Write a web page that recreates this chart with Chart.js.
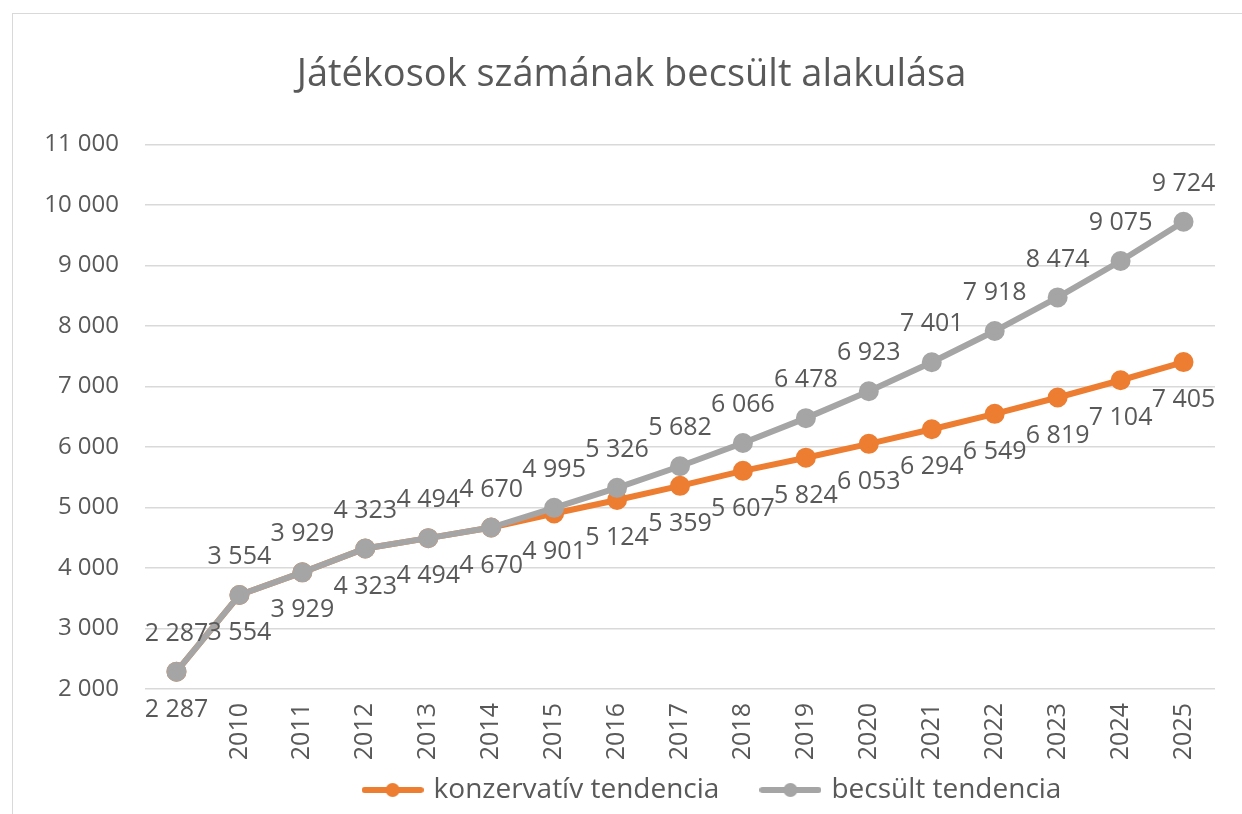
<!DOCTYPE html>
<html>
<head>
<meta charset="utf-8">
<script src="https://cdn.jsdelivr.net/npm/chart.js@4/dist/chart.umd.min.js"></script>
<style>
  html, body { margin: 0; padding: 0; background: #fff; }
  #wrap { position: relative; width: 1242px; height: 814px; }
  #frame { position: absolute; left: 12px; top: 13px; width: 1240px; height: 820px; border: 1px solid #d9d9d9; box-sizing: border-box; }
  canvas { position: absolute; left: 0; top: 0; }
</style>
</head>
<body>
<div id="wrap">
  <div id="frame"></div>
  <canvas id="chart" width="1242" height="814"></canvas>
</div>
<script>
// Kategóriák (az első pont évszám nélkül)
const evek = ['', '2010', '2011', '2012', '2013', '2014', '2015', '2016', '2017',
  '2018', '2019', '2020', '2021', '2022', '2023', '2024', '2025'];
const konzervativ = [2287, 3554, 3929, 4323, 4494, 4670, 4901, 5124, 5359,
  5607, 5824, 6053, 6294, 6549, 6819, 7104, 7405];
const becsult = [2287, 3554, 3929, 4323, 4494, 4670, 4995, 5326, 5682,
  6066, 6478, 6923, 7401, 7918, 8474, 9075, 9724];
const yTicks = [2000, 3000, 4000, 5000, 6000, 7000, 8000, 9000, 10000, 11000];

const NARANCS = '#ED7D31';
const SZURKE = '#A5A5A5';
const SZOVEG = '#595959';
const BETU = "'Open Sans', 'Noto Sans', sans-serif";

// ezres elválasztó szóközzel (2 287)
function fmt(v) {
  return String(v).replace(/\B(?=(\d{3})+(?!\d))/g, ' ');
}

// jelmagyarázat ikon: vonal + pötty
function legendIcon(color) {
  const c = document.createElement('canvas');
  c.width = 62; c.height = 16;
  const g = c.getContext('2d');
  g.strokeStyle = color; g.lineWidth = 6; g.lineCap = 'round';
  g.beginPath(); g.moveTo(3, 8); g.lineTo(59, 8); g.stroke();
  g.fillStyle = color;
  g.beginPath(); g.arc(31, 8, 7, 0, Math.PI * 2); g.fill();
  return c;
}

// adatcímkék: szürke felül, narancs alul
const adatCimkek = {
  id: 'adatCimkek',
  afterDatasetsDraw(chart) {
    const ctx = chart.ctx;
    ctx.save();
    ctx.font = '25px ' + BETU;
    ctx.fillStyle = SZOVEG;
    ctx.textAlign = 'center';
    ctx.textBaseline = 'middle';
    chart.data.datasets.forEach((ds, i) => {
      const meta = chart.getDatasetMeta(i);
      const dy = ds.cimkeHely === 'fent' ? -38 : 38;
      meta.data.forEach((pt, j) => {
        ctx.fillText(fmt(ds.data[j]), pt.x, pt.y + dy);
      });
    });
    ctx.restore();
  }
};

// cím és jelmagyarázat kicsit jobbra tolva, mint az eredetin;
// az x tengely vágási területe lefelé bővítve, hogy az évszámok kiférjenek
const eltolas = {
  id: 'eltolas',
  afterLayout(chart) {
    chart.legend.left += 100;
    chart.legend.right += 100;
    chart.titleBlock.left += 18;
    chart.titleBlock.right += 18;
    chart.scales.x.bottom += 50;
  }
};

new Chart(document.getElementById('chart'), {
  type: 'line',
  data: {
    labels: evek,
    datasets: [
      {
        label: 'konzervatív tendencia',
        data: konzervativ,
        borderColor: NARANCS,
        backgroundColor: NARANCS,
        borderWidth: 6,
        pointRadius: 7,
        pointHoverRadius: 7,
        cimkeHely: 'lent',
        order: 2
      },
      {
        label: 'becsült tendencia',
        data: becsult,
        borderColor: SZURKE,
        backgroundColor: SZURKE,
        borderWidth: 6,
        pointRadius: 7,
        pointHoverRadius: 7,
        cimkeHely: 'fent',
        order: 1
      }
    ]
  },
  options: {
    responsive: false,
    animation: false,
    layout: { padding: { top: 52, left: 12, right: 27, bottom: 0 } },
    plugins: {
      title: {
        display: true,
        text: 'Játékosok számának becsült alakulása',
        color: SZOVEG,
        font: { family: BETU, size: 38, weight: 'normal' },
        padding: { top: 0, bottom: 47 }
      },
      legend: {
        position: 'bottom',
        labels: {
          color: SZOVEG,
          font: { family: BETU, size: 28 },
          usePointStyle: true,
          pointStyleWidth: 54,
          padding: 44,
          generateLabels(chart) {
            return chart.data.datasets.map((ds, i) => ({
              text: ds.label,
              fillStyle: ds.borderColor,
              strokeStyle: ds.borderColor,
              fontColor: SZOVEG,
              pointStyle: legendIcon(ds.borderColor),
              datasetIndex: i,
              hidden: false,
              lineWidth: 0
            }));
          }
        }
      },
      tooltip: { enabled: false }
    },
    scales: {
      x: {
        offset: true,
        grid: { display: false, drawTicks: false },
        border: { display: false },
        ticks: {
          color: SZOVEG,
          font: { family: BETU, size: 25 },
          minRotation: 90,
          maxRotation: 90,
          padding: 14,
          autoSkip: false
        },
        afterFit(scale) { scale.height = 43; }
      },
      y: {
        min: 2000,
        max: 11000,
        afterBuildTicks(scale) { scale.ticks = yTicks.map(v => ({ value: v })); },
        grid: { color: '#D9D9D9', lineWidth: 1.5, drawTicks: false },
        border: { display: false },
        ticks: {
          color: SZOVEG,
          font: { family: BETU, size: 24 },
          padding: 26,
          callback: v => fmt(v)
        },
        afterFit(scale) { scale.width = 133; }
      }
    }
  },
  plugins: [adatCimkek, eltolas]
});
</script>
</body>
</html>
